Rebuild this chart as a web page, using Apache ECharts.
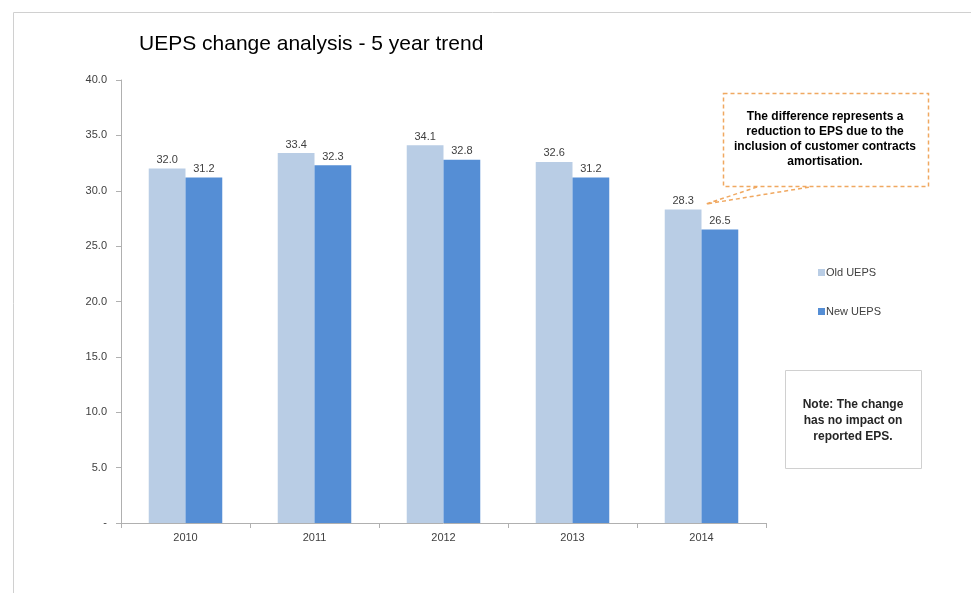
<!DOCTYPE html>
<html>
<head>
<meta charset="utf-8">
<script src="https://cdn.jsdelivr.net/npm/echarts@6/dist/echarts.min.js"></script>
<style>
  html, body { margin: 0; padding: 0; background: #fff; }
  #chart { width: 971px; height: 593px; }
</style>
</head>
<body>
<div id="chart"></div>
<script>
const years = ['2010', '2011', '2012', '2013', '2014'];
const oldUeps = [32.0, 33.4, 34.1, 32.6, 28.3];
const newUeps = [31.2, 32.3, 32.8, 31.2, 26.5];
const yTicks = [0, 5, 10, 15, 20, 25, 30, 35, 40];

const chart = echarts.init(document.getElementById('chart'));
const font = 'Liberation Sans, Arial, sans-serif';

const labelStyle = {
  show: true,
  position: 'top',
  distance: 3,
  color: '#404040',
  fontSize: 11,
  fontFamily: font,
  formatter: (p) => p.value.toFixed(1)
};

chart.setOption({
  animation: false,
  title: {
    text: 'UEPS change analysis - 5 year trend',
    left: 134,
    top: 29,
    textStyle: { fontFamily: font, fontSize: 21, fontWeight: 'normal', color: '#000' }
  },
  legend: {
    orient: 'vertical',
    left: 813,
    top: 262,
    itemGap: 28,
    itemWidth: 7,
    itemHeight: 7,
    icon: 'rect',
    textStyle: { fontFamily: font, fontSize: 11, color: '#404040', padding: [0, 0, 0, -4] },
    data: ['Old UEPS', 'New UEPS']
  },
  grid: { left: 121, top: 80, right: 205, bottom: 70 },
  xAxis: {
    type: 'category',
    data: years,
    axisLine: { lineStyle: { color: '#b0b0b0' } },
    axisTick: { show: true, length: 5, lineStyle: { color: '#b0b0b0' } },
    axisLabel: { color: '#404040', fontSize: 11, fontFamily: font, margin: 9 }
  },
  yAxis: {
    type: 'value',
    min: yTicks[0],
    max: yTicks[yTicks.length - 1],
    interval: 5,
    splitLine: { show: false },
    axisLine: { show: true, lineStyle: { color: '#b0b0b0' } },
    axisTick: { show: true, length: 5, lineStyle: { color: '#b0b0b0' } },
    axisLabel: {
      color: '#404040', fontSize: 11, fontFamily: font, margin: 14,
      formatter: (v) => (v === 0 ? '-' : v.toFixed(1))
    }
  },
  series: [
    {
      name: 'Old UEPS',
      type: 'bar',
      data: oldUeps,
      barGap: '0%',
      barCategoryGap: '43%',
      itemStyle: { color: '#b9cde5' },
      label: labelStyle
    },
    {
      name: 'New UEPS',
      type: 'bar',
      data: newUeps,
      itemStyle: { color: '#558ed5' },
      label: labelStyle
    }
  ],
  graphic: [
    // outer frame
    {
      type: 'rect', silent: true, z: -1,
      shape: { x: 13.5, y: 12.5, width: 1000, height: 1000 },
      style: { fill: 'none', stroke: '#d0d0d0', lineWidth: 1 }
    },
    // callout box
    {
      type: 'rect', silent: true,
      shape: { x: 723.5, y: 93.5, width: 205, height: 93 },
      style: { fill: '#fff', stroke: '#f0a860', lineWidth: 1.5, lineDash: [4, 3] }
    },
    {
      type: 'polyline', silent: true,
      shape: { points: [[757, 187], [706, 204], [810, 187]] },
      style: { fill: 'none', stroke: '#f0a860', lineWidth: 1.5, lineDash: [4, 3] }
    },
    {
      type: 'text', silent: true,
      x: 825, y: 109,
      style: {
        text: 'The difference represents a\nreduction to EPS due to the\ninclusion of customer contracts\namortisation.',
        font: 'bold 12px ' + font,
        fill: '#000',
        align: 'center',
        lineHeight: 15
      }
    },
    // note box
    {
      type: 'rect', silent: true,
      shape: { x: 785.5, y: 370.5, width: 136, height: 98 },
      style: { fill: '#fff', stroke: '#d0d0d0', lineWidth: 1 }
    },
    {
      type: 'text', silent: true,
      x: 853, y: 397,
      style: {
        text: 'Note: The change\nhas no impact on\nreported EPS.',
        font: 'bold 12px ' + font,
        fill: '#262626',
        align: 'center',
        lineHeight: 16
      }
    }
  ]
});
</script>
</body>
</html>
